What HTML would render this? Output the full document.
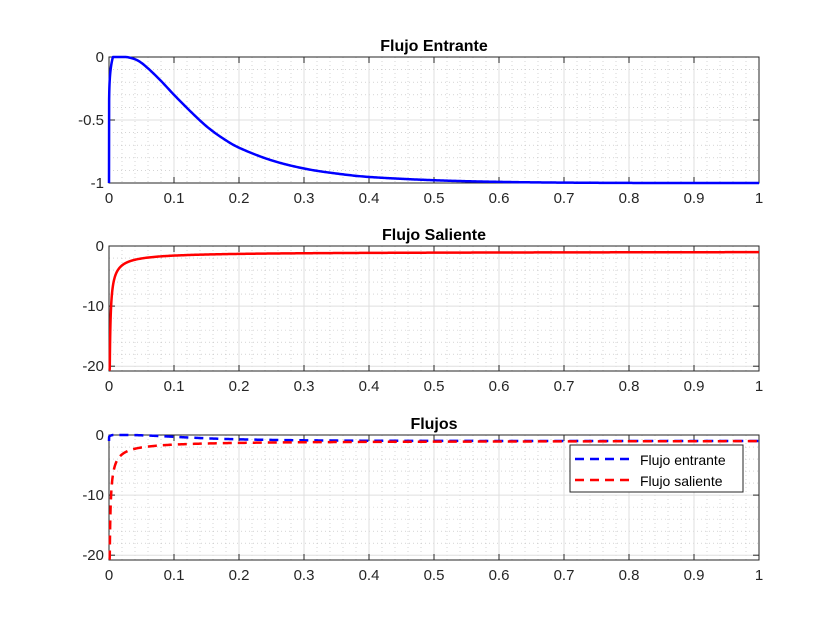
<!DOCTYPE html>
<html><head><meta charset="utf-8"><style>
body{margin:0;background:#fff;}
svg{display:block;font-family:"Liberation Sans",Arial,sans-serif;}
</style></head><body>
<svg id="s" width="840" height="630" xmlns="http://www.w3.org/2000/svg">
<rect width="840" height="630" fill="#fff"/>
</svg>
<script>
const S=document.getElementById('s');const NS='http://www.w3.org/2000/svg';
function el(t,a,txt){const e=document.createElementNS(NS,t);for(const k in a)e.setAttribute(k,a[k]);if(txt!=null)e.textContent=txt;S.appendChild(e);return e;}
const X0=109,X1=759;
const P=[[0.006,0],[0.02,0],[0.03,-0.003],[0.045,-0.03],[0.06,-0.09],[0.08,-0.19],[0.1,-0.3],[0.125,-0.43],[0.15,-0.55],[0.175,-0.645],[0.2,-0.72],[0.25,-0.82],[0.3,-0.885],[0.35,-0.925],[0.4,-0.952],[0.5,-0.978],[0.6,-0.991],[0.7,-0.997],[0.85,-1],[1,-1]];
function f1(x){
 if(x<0.006){return -1+Math.min(1,Math.pow(x/0.006,0.12));}
 for(let i=1;i<P.length;i++){if(x<=P[i][0]){
  const p0=P[Math.max(0,i-2)],p1=P[i-1],p2=P[i],p3=P[Math.min(P.length-1,i+1)];
  const h=p2[0]-p1[0],t=(x-p1[0])/h;
  const m1=(p2[1]-p0[1])/(p2[0]-p0[0])*h, m2=(p3[1]-p1[1])/(p3[0]-p1[0])*h;
  const t2=t*t,t3=t2*t;
  return (2*t3-3*t2+1)*p1[1]+(t3-2*t2+t)*m1+(-2*t3+3*t2)*p2[1]+(t3-t2)*m2;}}
 return -1;}
function f2(x){if(x<=0)return -20.6;return Math.max(-20.6,-0.9-0.124*Math.pow(x,-0.75));}
function axes(top,bot,ymin,ymax,yt,ymin_step,title){
 const sy=v=>bot-(v-ymin)/(ymax-ymin)*(bot-top), sx=v=>X0+v*(X1-X0);
 for(let i=1;i<50;i++){if(i%5==0)continue;const x=sx(i/50);el('line',{x1:x,x2:x,y1:top,y2:bot,stroke:'#bbb','stroke-width':0.6,'stroke-dasharray':'1 3'});}
 const st=ymin_step;for(let k=Math.ceil(ymin/st);k*st<=ymax+1e-9;k++){const v=k*st;if(yt.some(t=>Math.abs(t-v)<1e-9))continue;const y=sy(v);el('line',{x1:X0,x2:X1,y1:y,y2:y,stroke:'#bbb','stroke-width':0.6,'stroke-dasharray':'1 3'});}
 for(let i=1;i<10;i++){const x=sx(i/10);el('line',{x1:x,x2:x,y1:top,y2:bot,stroke:'#dfdfdf','stroke-width':1});}
 yt.forEach(v=>{const y=sy(v);el('line',{x1:X0,x2:X1,y1:y,y2:y,stroke:'#dfdfdf','stroke-width':1});});
 el('rect',{x:X0,y:top,width:X1-X0,height:bot-top,fill:'none',stroke:'#262626','stroke-width':1});
 for(let i=0;i<=10;i++){const x=sx(i/10);el('line',{x1:x,x2:x,y1:bot,y2:bot-6,stroke:'#262626'});el('line',{x1:x,x2:x,y1:top,y2:top+6,stroke:'#262626'});
  el('text',{x:x,y:bot+20,'text-anchor':'middle','font-size':15,fill:'#262626'},i==0?'0':i==10?'1':(i/10).toFixed(1));}
 yt.forEach(v=>{const y=sy(v);el('line',{x1:X0,x2:X0+6,y1:y,y2:y,stroke:'#262626'});el('line',{x1:X1,x2:X1-6,y1:y,y2:y,stroke:'#262626'});
  el('text',{x:X0-5,y:y+5,'text-anchor':'end','font-size':15,fill:'#262626'},String(v));});
 el('text',{x:(X0+X1)/2,y:top-6,'text-anchor':'middle','font-size':16,'font-weight':'bold',fill:'#000'},title);
 return {sx,sy};
}
function curve(ax,f,color,dash){let d='';const xs=[];for(let i=0;i<=200;i++)xs.push(i*0.0002);for(let i=1;i<=500;i++)xs.push(0.04+i*0.00192);
 xs.forEach((x,i)=>{d+=(i?'L':'M')+ax.sx(x).toFixed(2)+' '+ax.sy(f(x)).toFixed(2);});
 const a={d:d,fill:'none',stroke:color,'stroke-width':2.5,'stroke-linejoin':'round'};if(dash)a['stroke-dasharray']='9 6';el('path',a);}
const a1=axes(57,183,-1,0,[0,-0.5,-1],0.1,'Flujo Entrante');curve(a1,f1,'#0000ff');
const a2=axes(246,371,-20.8,0,[0,-10,-20],2,'Flujo Saliente');curve(a2,f2,'#ff0000');
const a3=axes(435,560,-20.8,0,[0,-10,-20],2,'Flujos');curve(a3,f1,'#0000ff',true);curve(a3,f2,'#ff0000',true);
el('rect',{x:570,y:445,width:173,height:47,fill:'#fff',stroke:'#262626','stroke-width':1});
el('line',{x1:575,x2:635,y1:459,y2:459,stroke:'#0000ff','stroke-width':2.5,'stroke-dasharray':'9 6'});
el('line',{x1:575,x2:635,y1:480,y2:480,stroke:'#ff0000','stroke-width':2.5,'stroke-dasharray':'9 6'});
el('text',{x:640,y:465,'font-size':14,fill:'#000'},'Flujo entrante');
el('text',{x:640,y:486,'font-size':14,fill:'#000'},'Flujo saliente');
</script>
</body></html>
